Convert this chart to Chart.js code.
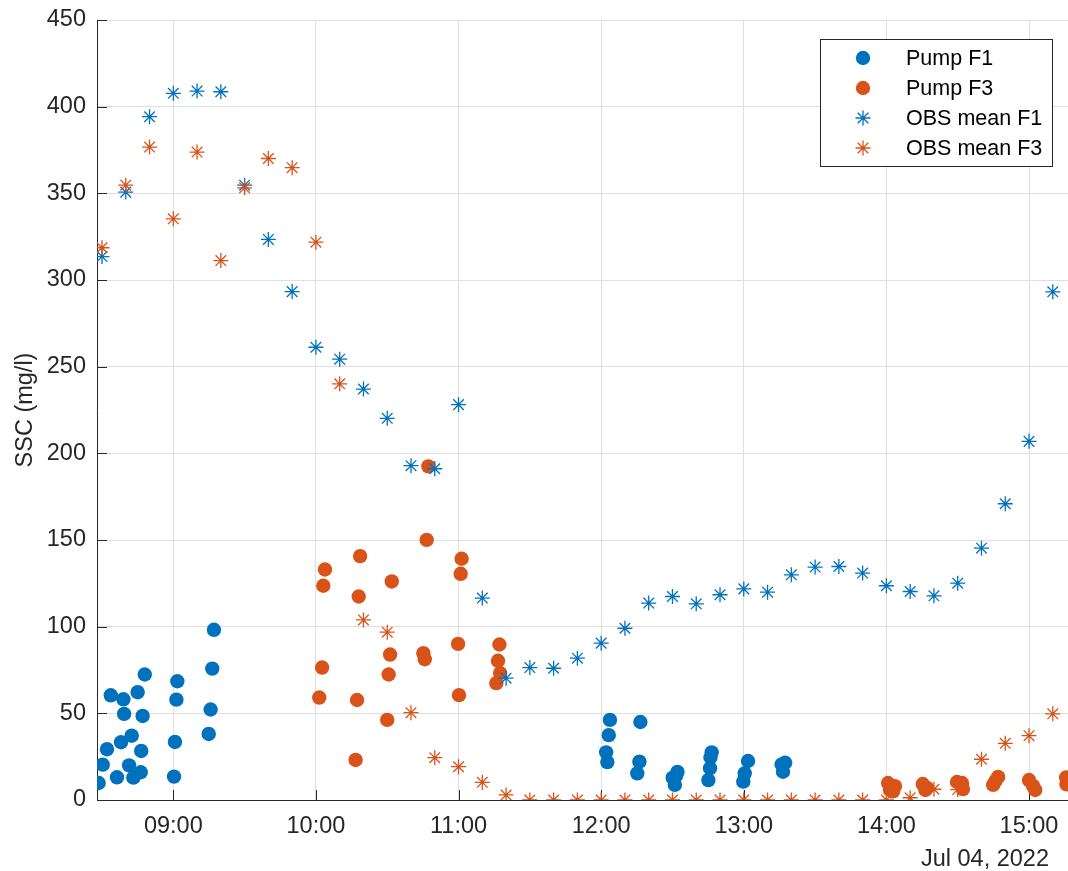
<!DOCTYPE html>
<html>
<head>
<meta charset="utf-8">
<script src="https://cdn.jsdelivr.net/npm/chart.js@4/dist/chart.umd.min.js"></script>
<style>
  html, body { margin: 0; padding: 0; background: #ffffff; }
  #wrap { width: 1068px; height: 871px; }
</style>
</head>
<body>
<div id="wrap"><canvas id="ssc" width="1068" height="871"></canvas></div>
<script>
// ---- data (times are clock times on Jul 04, 2022; SSC in mg/l) ----
const obsTimes = ['08:30','08:40','08:50','09:00','09:10','09:20','09:30','09:40','09:50',
  '10:00','10:10','10:20','10:30','10:40','10:50','11:00','11:10','11:20','11:30','11:40','11:50',
  '12:00','12:10','12:20','12:30','12:40','12:50','13:00','13:10','13:20','13:30','13:40','13:50',
  '14:00','14:10','14:20','14:30','14:40','14:50','15:00','15:10'];
const obsMeanF1 = [313.5, 350.7, 394.2, 407.7, 409.0, 408.6, 354.7, 323.4, 293.3,
  261.2, 254.3, 237.1, 220.2, 192.9, 191.1, 228.1, 116.5, 70.3, 76.4, 76.0, 81.8,
  90.5, 99.1, 113.6, 117.4, 113.2, 118.4, 121.8, 119.9, 129.9, 134.4, 134.7, 130.9,
  123.6, 120.3, 117.8, 125.1, 145.3, 170.9, 206.9, 293.2];
const obsMeanF3 = [318.6, 354.7, 376.7, 335.3, 373.8, 311.2, 353.2, 370.1, 364.8,
  321.8, 240.1, 103.9, 96.8, 50.4, 24.4, 19.2, 10.2, 2.9, 0, 0, 0,
  0, 0, 0, 0, 0, 0, 0, 0, 0, 0, 0, 0,
  0, 1.3, 6.2, 6.0, 23.5, 32.7, 37.1, 49.7];

const pumpF1Times = ['08:28:36','08:30:18','08:32:06','08:33:42','08:36:18','08:38:00','08:39:00','08:39:18',
  '08:41:24','08:42:30','08:43:12','08:45:00','08:46:18','08:46:30','08:47:06','08:48:00',
  '09:00:18','09:00:42','09:01:18','09:01:42','09:14:54','09:15:42','09:16:24','09:17:06',
  '12:02:06','12:02:36','12:03:12','12:03:42','12:15:12','12:16:06','12:16:30',
  '12:30:06','12:31:00','12:31:30','12:32:06','12:45:06','12:45:48','12:46:00','12:46:30',
  '12:59:48','13:00:24','13:01:48','13:15:54','13:16:30','13:17:24'];
const pumpF1Values = [9.8, 20.4, 29.3, 60.4, 13.1, 33.3, 58.1, 49.7,
  20.0, 37.1, 12.9, 62.2, 16.0, 28.3, 48.5, 72.4,
  13.5, 33.5, 57.9, 68.5, 38.1, 52.2, 75.8, 98.2,
  27.5, 21.9, 37.4, 46.2, 15.4, 22.1, 45.0,
  12.9, 8.7, 14.0, 16.2, 11.5, 18.3, 24.5, 27.5,
  10.6, 15.4, 22.5, 20.5, 16.3, 21.5];

const pumpF3Times = ['10:01:24','10:02:36','10:03:06','10:03:48','10:16:42','10:17:18','10:18:00','10:18:36',
  '10:30:00','10:30:36','10:31:12','10:31:54','10:45:12','10:45:48','10:46:36','10:47:18',
  '10:59:48','11:00:12','11:00:54','11:01:18','11:15:54','11:16:36','11:17:12','11:17:30',
  '14:00:42','14:01:30','14:02:48','14:03:36','14:15:18','14:16:24','14:17:06',
  '14:29:42','14:31:48','14:32:12','14:44:54','14:45:54','14:47:00',
  '15:00:00','15:01:42','15:02:36','15:15:36','15:15:48'];
const pumpF3Values = [59.1, 76.4, 123.6, 133.0, 23.1, 57.7, 117.4, 140.7,
  46.2, 72.4, 83.9, 126.1, 84.7, 81.2, 150.1, 192.5,
  90.1, 60.5, 130.5, 139.2, 67.4, 80.3, 89.7, 73.2,
  9.8, 5.8, 5.0, 8.0, 9.2, 5.8, 7.0,
  10.4, 9.8, 6.3, 8.7, 11.0, 13.3,
  11.5, 8.1, 5.8, 13.0, 9.0];

const seriesNames = ['Pump F1', 'Pump F3', 'OBS mean F1', 'OBS mean F3'];
const hourTicks = ['09:00','10:00','11:00','12:00','13:00','14:00','15:00'];
const sscTicks = [0, 50, 100, 150, 200, 250, 300, 350, 400, 450];
const timeRange = ['08:27:54', '15:16:24'];
const dateLabel = 'Jul 04, 2022';
const yTitle = 'SSC (mg/l)';

// ---- helpers ----
function toMinutes(t) {
  const p = t.split(':').map(Number);
  return p[0] * 60 + p[1] + (p[2] || 0) / 60;
}
function pts(times, values) {
  return times.map((t, i) => ({ x: toMinutes(t), y: values[i] }));
}
function clockLabel(m) {
  const h = Math.floor(m / 60), mm = Math.round(m - h * 60);
  return String(h).padStart(2, '0') + ':' + String(mm).padStart(2, '0');
}

const BLUE = '#0072BD';
const ORANGE = '#D95319';
const INK = '#262626';
const GRID = '#dfdfdf';
const FONT = '"Liberation Sans", Arial, Helvetica, sans-serif';
const AXIS_PX = 23.5;
const LEGEND_PX = 21.5;

// inward tick marks on both axes
const innerTicks = {
  id: 'innerTicks',
  beforeDatasetsDraw(chart) {
    const { ctx, chartArea: a, scales } = chart;
    ctx.save();
    ctx.strokeStyle = INK;
    ctx.lineWidth = 1;
    ctx.beginPath();
    scales.x.ticks.forEach(t => {
      const px = Math.round(scales.x.getPixelForValue(t.value)) + 0.5;
      ctx.moveTo(px, a.bottom);
      ctx.lineTo(px, a.bottom - 10);
    });
    scales.y.ticks.forEach(t => {
      const py = Math.round(scales.y.getPixelForValue(t.value)) + 0.5;
      ctx.moveTo(a.left, py);
      ctx.lineTo(a.left + 10, py);
    });
    ctx.stroke();
    ctx.restore();
  }
};

// boxed legend in the upper right and the date stamp under the time axis
const boxLegend = {
  id: 'boxLegend',
  afterDraw(chart) {
    const { ctx } = chart;
    const bx = 820, by = 39, bw = 232, bh = 127;
    ctx.save();
    ctx.fillStyle = '#ffffff';
    ctx.fillRect(bx, by, bw, bh);
    ctx.strokeStyle = INK;
    ctx.lineWidth = 1;
    ctx.strokeRect(bx + 0.5, by + 0.5, bw, bh);
    const rows = [58, 88, 118, 148];
    chart.data.datasets.forEach((ds, i) => {
      const y = rows[i];
      const opts = {
        pointStyle: ds.pointStyle,
        radius: ds.pointRadius,
        rotation: 0,
        borderWidth: ds.pointBorderWidth
      };
      ctx.fillStyle = ds.pointBackgroundColor;
      ctx.strokeStyle = ds.pointBorderColor;
      ctx.lineWidth = ds.pointBorderWidth || 1;
      if (Chart.helpers && Chart.helpers.drawPoint) {
        Chart.helpers.drawPoint(ctx, opts, 863, y);
      }
      ctx.fillStyle = '#000000';
      ctx.font = LEGEND_PX + 'px ' + FONT;
      ctx.textAlign = 'left';
      ctx.textBaseline = 'middle';
      ctx.fillText(ds.label, 906, y + 1);
    });
    ctx.fillStyle = INK;
    ctx.font = AXIS_PX + 'px ' + FONT;
    ctx.textAlign = 'right';
    ctx.textBaseline = 'alphabetic';
    ctx.fillText(dateLabel, 1049, 866);
    ctx.restore();
  }
};

const tickFont = { family: FONT, size: AXIS_PX };

new Chart(document.getElementById('ssc'), {
  type: 'scatter',
  data: {
    datasets: [
      { label: seriesNames[0], data: pts(pumpF1Times, pumpF1Values), order: 4,
        pointStyle: 'circle', pointRadius: 7.2, pointBorderWidth: 0,
        pointBackgroundColor: BLUE, pointBorderColor: BLUE },
      { label: seriesNames[1], data: pts(pumpF3Times, pumpF3Values), order: 3,
        pointStyle: 'circle', pointRadius: 7.2, pointBorderWidth: 0,
        pointBackgroundColor: ORANGE, pointBorderColor: ORANGE },
      { label: seriesNames[2], data: pts(obsTimes, obsMeanF1), order: 2,
        pointStyle: 'star', pointRadius: 7.5, pointBorderWidth: 1.3,
        pointBackgroundColor: BLUE, pointBorderColor: BLUE },
      { label: seriesNames[3], data: pts(obsTimes, obsMeanF3), order: 1,
        pointStyle: 'star', pointRadius: 7.5, pointBorderWidth: 1.3,
        pointBackgroundColor: ORANGE, pointBorderColor: ORANGE }
    ]
  },
  options: {
    responsive: false,
    animation: false,
    events: [],
    devicePixelRatio: 1,
    layout: { autoPadding: false, padding: { top: 20, left: 0, right: 0, bottom: 0 } },
    plugins: { legend: { display: false }, tooltip: { enabled: false } },
    scales: {
      x: {
        type: 'linear',
        position: 'bottom',
        min: toMinutes(timeRange[0]),
        max: toMinutes(timeRange[1]),
        afterBuildTicks(s) { s.ticks = hourTicks.map(h => ({ value: toMinutes(h) })); },
        afterFit(s) { s.height = 71; s.paddingLeft = 0; s.paddingRight = 0; },
        ticks: { font: tickFont, color: INK, padding: 12, maxRotation: 0, autoSkip: false,
                 callback: v => clockLabel(v) },
        grid: { color: GRID, lineWidth: 1, drawTicks: false },
        border: { display: true, color: INK, width: 1 }
      },
      y: {
        min: sscTicks[0],
        max: sscTicks[sscTicks.length - 1],
        afterBuildTicks(s) { s.ticks = sscTicks.map(v => ({ value: v })); },
        afterFit(s) { s.width = 97; s.paddingTop = 0; s.paddingBottom = 0; },
        ticks: { font: tickFont, color: INK, padding: 11, autoSkip: false },
        grid: { color: GRID, lineWidth: 1, drawTicks: false },
        border: { display: true, color: INK, width: 1 },
        title: { display: true, text: yTitle, font: tickFont, color: INK,
                 padding: { top: 11, bottom: 0 } }
      }
    }
  },
  plugins: [innerTicks, boxLegend]
});
</script>
</body>
</html>
